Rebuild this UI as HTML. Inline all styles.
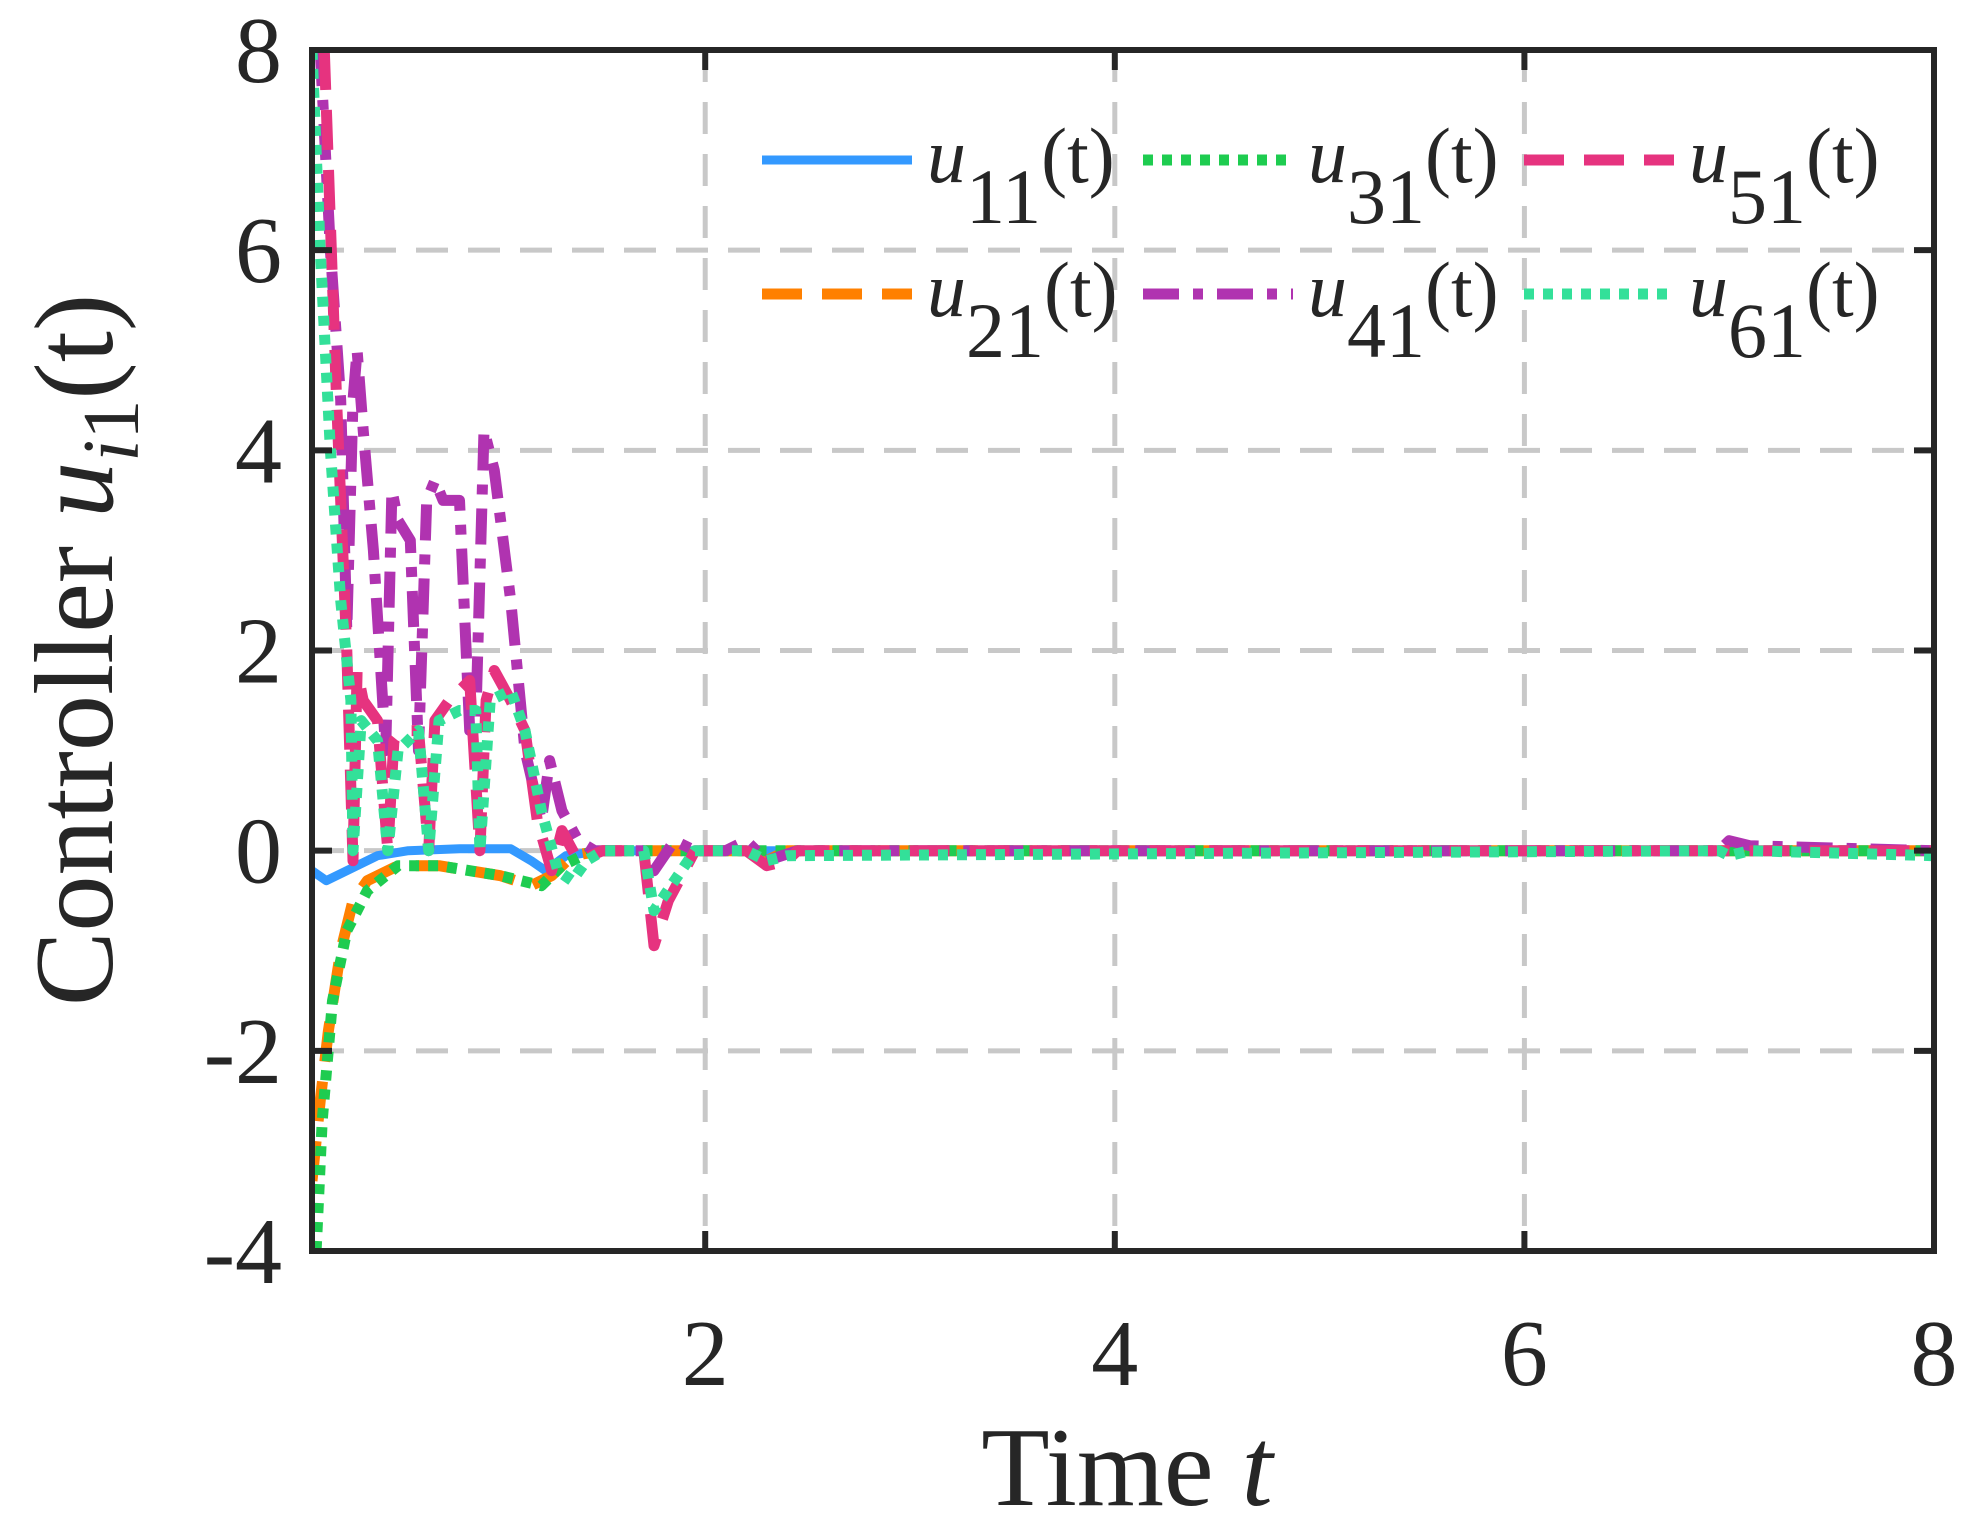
<!DOCTYPE html>
<html><head><meta charset="utf-8"><style>
body{margin:0;background:#fff}
svg{display:block}
text{font-family:"Liberation Serif",serif;fill:#262626}
</style></head><body>
<svg id="chart" width="1975" height="1531" viewBox="0 0 1975 1531" xmlns="http://www.w3.org/2000/svg">
<defs><clipPath id="plotclip"><rect x="312" y="50" width="1622" height="1201"/></clipPath></defs>
<g id="grid"></g>
<g id="series" clip-path="url(#plotclip)"></g>
<g id="axes"></g>
<text transform="translate(112,650) rotate(-90)" text-anchor="middle" font-size="112">Controller <tspan font-style="italic">u</tspan><tspan font-style="italic" font-size="80" dy="26">i</tspan><tspan font-size="80">1</tspan><tspan dy="-26">(t)</tspan></text>
<text x="1127" y="1505" text-anchor="middle" font-size="112">Time <tspan font-style="italic">t</tspan></text>
<g id="legend"></g>
</svg>
<script>
const xTicks=[2,4,6,8];
const yTicks=[-4,-2,0,2,4,6,8];
const seriesNames=["u11","u21","u31","u41","u51","u61"];
const seriesColors=["#3399ff","#ff8000","#1ecc50","#b033b0","#e6337f","#33e099"];
const t11=[0.08,0.15,0.25,0.4,0.55,0.8,1.05,1.15,1.22,1.32,1.5,8];
const v11=[-0.2,-0.3,-0.2,-0.05,0,0.02,0.02,-0.1,-0.2,-0.05,0,0];
const t21=[0.08,0.12,0.16,0.22,0.28,0.35,0.5,0.7,0.85,1.0,1.15,1.25,1.35,1.5,2.2,2.3,2.4,2.45,8];
const v21=[-3.3,-2.5,-1.8,-1,-0.5,-0.3,-0.15,-0.15,-0.2,-0.25,-0.35,-0.25,-0.05,0,0,-0.1,0,0,0];
const t31=[0.1,0.13,0.18,0.25,0.35,0.5,0.7,0.85,1.0,1.2,1.3,1.45,8];
const v31=[-4,-2.7,-1.5,-0.8,-0.4,-0.15,-0.15,-0.2,-0.25,-0.35,-0.15,0,0];
const t41=[0.12,0.17,0.22,0.25,0.28,0.3,0.33,0.38,0.44,0.47,0.5,0.56,0.6,0.64,0.68,0.72,0.8,0.85,0.88,0.92,0.97,1.05,1.12,1.2,1.24,1.3,1.38,1.46,1.6,1.7,1.75,1.85,1.95,2.1,2.2,2.3,2.45,6.95,7.0,7.1,8];
const v41=[8,6,4.5,2.2,4.5,5,4.2,3,1,3.6,3.3,3.1,1,3.5,3.7,3.5,3.5,1.2,1.3,4.2,3.8,2.5,1,0.3,0.9,0.4,0.1,0,0,0,-0.2,0.1,0,0,0.1,-0.1,0,0,0.1,0.05,0];
const t51=[0.14,0.2,0.25,0.28,0.3,0.33,0.4,0.45,0.48,0.52,0.6,0.65,0.68,0.75,0.85,0.9,0.93,0.97,1.05,1.12,1.18,1.25,1.3,1.38,1.5,1.7,1.75,1.82,1.95,2.2,2.3,2.4,2.45,8];
const v51=[8,4.5,2,-0.1,1.8,1.5,1.3,0,1.1,1.2,1.2,0,1.3,1.5,1.7,0,1.5,1.8,1.5,1.2,0.3,-0.2,0.2,-0.1,0,0,-0.95,-0.5,0,0,-0.15,-0.1,0,0];
const t61=[0.08,0.12,0.17,0.22,0.27,0.28,0.32,0.4,0.45,0.5,0.6,0.65,0.7,0.8,0.88,0.9,0.95,1.05,1.12,1.2,1.28,1.35,1.42,1.5,1.7,1.75,1.85,1.95,2.2,2.3,2.4,6.95,7.0,7.1,8];
const v61=[8,6,4,2.5,1.5,0,1.3,1.1,0,1.0,1.2,0,1.3,1.4,1.4,0,1.5,1.6,1.2,0.4,-0.2,-0.3,-0.1,0,0,-0.6,-0.3,0,0,-0.1,-0.05,0,-0.05,0,-0.05];
const tData=[t11,t21,t31,t41,t51,t61];
const vData=[v11,v21,v31,v41,v51,v61];
const dashes=["none","40 20","10 9","36 14 10 14","40 20","10 9"];
const XMIN=0.08,XMAX=8,YMIN=-4,YMAX=8,L=312,R=1934,T=50,B=1251;
const sx=t=>L+(t-XMIN)/(XMAX-XMIN)*(R-L);
const sy=v=>B-(v-YMIN)/(YMAX-YMIN)*(B-T);
const NS="http://www.w3.org/2000/svg";
function mk(tag,attrs,parent){const e=document.createElementNS(NS,tag);for(const k in attrs)e.setAttribute(k,attrs[k]);parent.appendChild(e);return e;}
const grid=document.getElementById('grid'),axes=document.getElementById('axes'),ser=document.getElementById('series'),leg=document.getElementById('legend');
xTicks.forEach(t=>{if(t<XMAX){const g=mk('line',{x1:sx(t),x2:sx(t),y1:T,y2:B,stroke:'#c8c8c8','stroke-width':5,'stroke-dasharray':'32 20'},grid);}});
yTicks.forEach(v=>{if(v>YMIN&&v<YMAX){const g=mk('line',{x1:L,x2:R,y1:sy(v),y2:sy(v),stroke:'#c8c8c8','stroke-width':5,'stroke-dasharray':'32 20'},grid);}});
seriesNames.forEach((n,i)=>{
 const pts=tData[i].map((t,j)=>sx(t).toFixed(1)+','+sy(vData[i][j]).toFixed(1)).join(' ');
 const p=mk('polyline',{points:pts,fill:'none',stroke:seriesColors[i],'stroke-width':i===0?9:11,'stroke-dasharray':dashes[i],'stroke-linejoin':'round'},ser);
 
 
});
const box=mk('rect',{x:L,y:T,width:R-L,height:B-T,fill:'none',stroke:'#262626','stroke-width':6},axes);


xTicks.forEach(t=>{const x=sx(t);
 mk('line',{x1:x,x2:x,y1:B,y2:B-20,stroke:'#262626','stroke-width':6},axes);
 mk('line',{x1:x,x2:x,y1:T,y2:T+20,stroke:'#262626','stroke-width':6},axes);
 const tx=mk('text',{x:x,y:1385,'text-anchor':'middle','font-size':94},axes);tx.textContent=t;
 
 
});
yTicks.forEach(v=>{const y=sy(v);
 mk('line',{x1:L,x2:L+20,y1:y,y2:y,stroke:'#262626','stroke-width':6},axes);
 mk('line',{x1:R,x2:R-20,y1:y,y2:y,stroke:'#262626','stroke-width':6},axes);
 const tx=mk('text',{x:282,y:y+32,'text-anchor':'end','font-size':94},axes);tx.textContent=v;
 
 
});
const subs=["11","21","31","41","51","61"];
const legCols=[762,1143,1524],legRows=[160,294];
seriesNames.forEach((n,i)=>{
 const col=Math.floor(i/2),row=i%2;const x=legCols[col],y=legRows[row];
 const g=mk('g',{},leg);
 
 
 mk('line',{x1:x,x2:x+150,y1:y,y2:y,stroke:seriesColors[i],'stroke-width':i===0?9:11,'stroke-dasharray':dashes[i]},g);
 const tx=mk('text',{x:x+165,y:y+22,'font-size':78},g);
 tx.innerHTML='<tspan font-style="italic">u</tspan><tspan dy="41">'+subs[i]+'</tspan><tspan dy="-41">(t)</tspan>';
});
</script>
</body></html>
